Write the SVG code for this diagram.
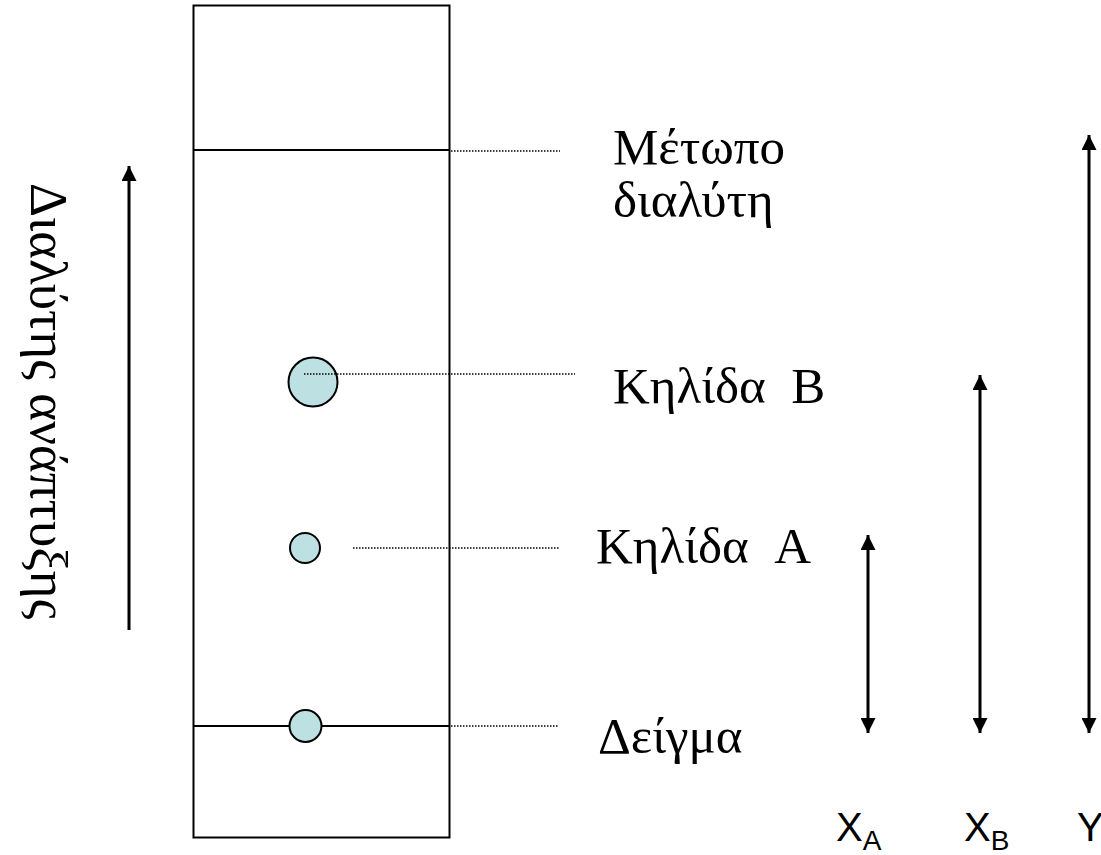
<svg xmlns="http://www.w3.org/2000/svg" width="1101" height="855" viewBox="0 0 1101 855">
  <defs>
    <marker id="head" viewBox="0 0 10 10" refX="10" refY="5" markerWidth="5" markerHeight="5" orient="auto-start-reverse" markerUnits="strokeWidth">
      <path d="M0,0 L10,5 L0,10 Z" fill="#000"/>
    </marker>
    <style>
      .plate { fill: none; stroke: #000; stroke-width: 2; }
      .line { stroke: #000; stroke-width: 2; fill: none; }
      .dots { stroke: #000; stroke-width: 1.5; stroke-dasharray: 1.5 1.5; fill: none; }
      .spot { fill: #bde0e3; stroke: #000; stroke-width: 2; }
      .arrow { stroke: #000; stroke-width: 3; fill: none; }
      .gr { font-family: "Liberation Serif", "Times New Roman", serif; font-size: 51px; fill: #000; }
      .vert { font-size: 53px; }
      .lab { font-family: "Liberation Sans", Arial, sans-serif; font-size: 40px; fill: #000; }
      .sub { font-size: 28px; }
    </style>
  </defs>

  <!-- TLC plate -->
  <g id="plate">
    <rect class="plate" x="193.5" y="5.5" width="256" height="832"/>
    <line class="line" x1="193.5" y1="150" x2="449.5" y2="150"/>
    <line class="line" x1="193.5" y1="726" x2="289" y2="726"/>
    <line class="line" x1="322" y1="726" x2="449.5" y2="726"/>
  </g>

  <g id="spot-B"><circle class="spot" cx="313" cy="382" r="24.5"/></g>
  <g id="spot-A"><circle class="spot" cx="305" cy="548" r="15"/></g>
  <g id="spot-sample"><circle class="spot" cx="305.5" cy="726" r="16"/></g>

  <!-- leader lines and distance arrows -->
  <g id="connectors">
    <line class="dots" x1="451" y1="151" x2="560" y2="151"/>
    <line class="dots" x1="304" y1="374" x2="575" y2="374"/>
    <line class="dots" x1="353" y1="548" x2="560" y2="548"/>
    <line class="dots" x1="451" y1="726" x2="558" y2="726"/>

    <line class="arrow" x1="129" y1="630" x2="129" y2="166" marker-end="url(#head)"/>
    <line class="arrow" x1="868" y1="535" x2="868" y2="733" marker-start="url(#head)" marker-end="url(#head)"/>
    <line class="arrow" x1="980" y1="375" x2="980" y2="733" marker-start="url(#head)" marker-end="url(#head)"/>
    <line class="arrow" x1="1089" y1="135" x2="1089" y2="733" marker-start="url(#head)" marker-end="url(#head)"/>
  </g>

  <!-- labels -->
  <g id="label-front">
    <text class="gr" x="613" y="164">Μέτωπο</text>
    <text class="gr" x="613" y="217">διαλύτη</text>
  </g>
  <g id="label-B"><text class="gr" x="613" y="403" xml:space="preserve">Κηλίδα  B</text></g>
  <g id="label-A"><text class="gr" x="596" y="563" xml:space="preserve">Κηλίδα  A</text></g>
  <g id="label-sample"><text class="gr" x="598" y="753">Δείγμα</text></g>

  <g id="label-direction">
    <text class="gr vert" transform="translate(31,183) rotate(90)">Διαλύτης ανάπτυξης</text>
  </g>

  <g id="label-xa"><text class="lab" x="836" y="841">X<tspan class="sub" dy="9">A</tspan></text></g>
  <g id="label-xb"><text class="lab" x="964" y="841">X<tspan class="sub" dy="9">B</tspan></text></g>
  <g id="label-y"><text class="lab" x="1077" y="841">Y</text></g>
</svg>
